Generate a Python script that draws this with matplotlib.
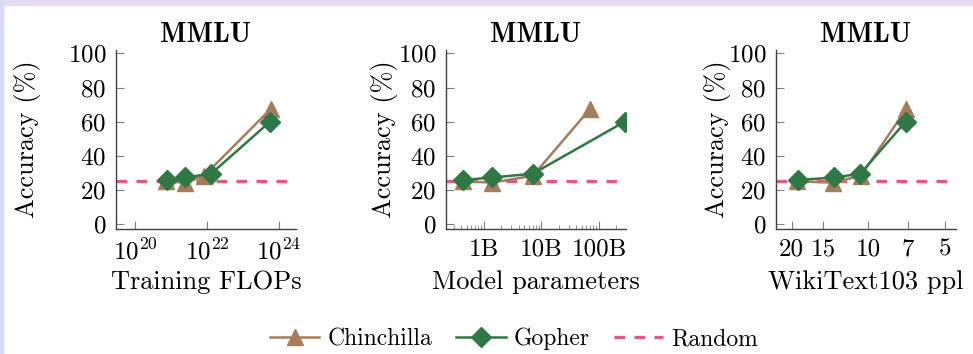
import matplotlib
matplotlib.use("Agg")
import matplotlib.pyplot as plt
from matplotlib.lines import Line2D
from matplotlib.patches import Rectangle
from matplotlib.ticker import FixedLocator, FixedFormatter, NullLocator, LogLocator

# ---------------------------------------------
# data
# ---------------------------------------------
flops_chinchilla = [7.1e20, 2.5e21, 8.3e21, 5.9e23]
flops_gopher = [7.6e20, 2.5e21, 1.3e22, 5.6e23]

params_chinchilla = [0.44e9, 1.4e9, 7.1e9, 70e9]
params_gopher = [0.44e9, 1.4e9, 7.1e9, 280e9]

ppl_chinchilla = [19.0, 13.7, 10.7, 7.1]
ppl_gopher = [18.9, 13.6, 10.75, 7.15]

acc_chinchilla = [25.0, 24.3, 28.3, 67.5]
acc_gopher = [25.8, 27.3, 29.5, 60.0]
random_acc = 25.0

flops_ticks = [1e20, 1e22, 1e24]
flops_labels = [r"$10^{20}$", r"$10^{22}$", r"$10^{24}$"]
param_ticks = [1e9, 1e10, 1e11]
param_labels = ["1B", "10B", "100B"]
ppl_ticks = [20, 15, 10, 7, 5]
ppl_labels = ["20", "15", "10", "7", "5"]
y_ticks = [0, 20, 40, 60, 80, 100]

x_titles = ["Training FLOPs", "Model parameters", "WikiText103 ppl"]

# ---------------------------------------------
# style
# ---------------------------------------------
plt.rcParams["font.family"] = "serif"
plt.rcParams["font.serif"] = ["cmr10", "DejaVu Serif"]
plt.rcParams["mathtext.fontset"] = "cm"
plt.rcParams["axes.formatter.use_mathtext"] = True

C_CHIN = "#A67C5A"
C_GOPH = "#2E7846"
C_RAND = "#E8558A"
SPINE = "#404040"

fig = plt.figure(figsize=(9.73, 3.54), dpi=100)
W, H = 973, 354

# lavender frame of the slide
fig.patches.append(Rectangle((0, 1 - 5 / H), 1, 5 / H, transform=fig.transFigure,
                             color="#E4DCF6", zorder=0))
fig.patches.append(Rectangle((0, 0), 3 / W, 1, transform=fig.transFigure,
                             color="#D6DAFA", zorder=0))

lefts = [116, 446, 776]
ylab_x = [-0.417, -0.267, -0.25]
axes = []
for i, l in enumerate(lefts):
    ax = fig.add_axes([l / W, (H - 229) / H, 180 / W, 179 / H])
    axes.append(ax)

xs_chin = [flops_chinchilla, params_chinchilla, ppl_chinchilla]
xs_goph = [flops_gopher, params_gopher, ppl_gopher]

for i, ax in enumerate(axes):
    ax.set_xscale("log")
    ax.axhline(random_acc, color=C_RAND, lw=2.4, ls=(0, (3.2, 2.8)), zorder=1)
    ax.plot(xs_chin[i], acc_chinchilla, color=C_CHIN, lw=1.8, marker="^", ms=11.5,
            zorder=2)
    ax.plot(xs_goph[i], acc_gopher, color=C_GOPH, lw=1.8, marker="D", ms=10,
            zorder=3)

    ax.set_ylim(-2.9, 102)
    ax.set_yticks(y_ticks)
    for s in ["top", "right"]:
        ax.spines[s].set_visible(False)
    for s in ["left", "bottom"]:
        ax.spines[s].set_color(SPINE)
        ax.spines[s].set_linewidth(1.0)
    ax.tick_params(axis="both", which="major", direction="in", length=6,
                   width=0.8, color="#808080", labelsize=18, pad=7)
    ax.tick_params(axis="both", which="minor", direction="in", length=3,
                   width=0.6, color="#808080")

    ax.set_title("MMLU", fontsize=20, fontfamily="cmb10", pad=6)
    ax.set_ylabel("Accuracy (%)", fontsize=19)
    ax.yaxis.set_label_coords(ylab_x[i], 0.5)
    ax.set_xlabel(x_titles[i], fontsize=19)
    ax.xaxis.set_label_coords(0.5, -0.23)
    ax.xaxis.label.set_va("top")

# panel 1: FLOPs
axes[0].set_xlim(10 ** 19.47, 10 ** 24.47)
axes[0].xaxis.set_major_locator(FixedLocator(flops_ticks))
axes[0].xaxis.set_major_formatter(FixedFormatter(flops_labels))
axes[0].xaxis.set_minor_locator(NullLocator())

# panel 2: parameters
axes[1].set_xlim(10 ** 8.34, 10 ** 11.47)
axes[1].xaxis.set_major_locator(FixedLocator(param_ticks))
axes[1].xaxis.set_major_formatter(FixedFormatter(param_labels))
axes[1].xaxis.set_minor_locator(LogLocator(base=10, subs=range(2, 10)))

# panel 3: perplexity, reversed
axes[2].set_xlim(23.0, 4.54)
axes[2].xaxis.set_major_locator(FixedLocator(ppl_ticks))
axes[2].xaxis.set_major_formatter(FixedFormatter(ppl_labels))
axes[2].xaxis.set_minor_locator(NullLocator())

# legend
handles = [
    Line2D([], [], color=C_CHIN, lw=1.8, marker="^", ms=11.5),
    Line2D([], [], color=C_GOPH, lw=1.8, marker="D", ms=10),
    Line2D([], [], color=C_RAND, lw=2.4, ls=(0, (3.2, 2.8))),
]
fig.legend(handles, ["Chinchilla", "Gopher", "Random"], loc="center",
           bbox_to_anchor=(514 / W, (H - 339) / H), ncol=3, frameon=False,
           fontsize=17, handlelength=2.1, handletextpad=0.35, columnspacing=1.0)

fig.savefig("out.png", dpi=100)
